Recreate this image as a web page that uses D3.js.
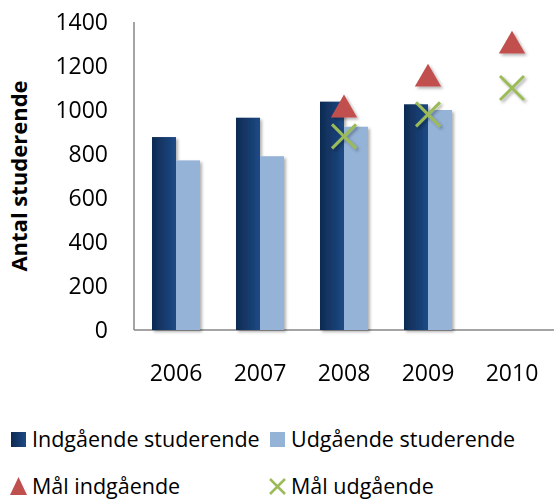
<!DOCTYPE html>
<html>
<head>
<meta charset="utf-8">
<script src="https://cdn.jsdelivr.net/npm/d3@7"></script>
<style>
  body { margin: 0; background: #fff; }
  text { font-family: "Open Sans", "Noto Sans", sans-serif; fill: #000; }
</style>
</head>
<body>
<script>
// data
var years = ["2006", "2007", "2008", "2009", "2010"];
var indgaende = [877, 965, 1038, 1026, null];
var udgaende = [771, 790, 924, 1000, null];
var maalInd = [null, null, 1010, 1150, 1300];
var maalUd = [null, null, 880, 980, 1100];
var yTicks = [0, 200, 400, 600, 800, 1000, 1200, 1400];

var width = 554, height = 499;

var svg = d3.select("body").append("svg")
  .attr("width", width).attr("height", height);

var defs = svg.append("defs");
var grad = defs.append("linearGradient").attr("id", "darkGrad")
  .attr("x1", "0%").attr("x2", "100%").attr("y1", "0%").attr("y2", "0%");
grad.append("stop").attr("offset", "0%").attr("stop-color", "#0e2a52");
grad.append("stop").attr("offset", "100%").attr("stop-color", "#1d4a86");

var shadow = defs.append("filter").attr("id", "shadow")
  .attr("x", "-20%").attr("y", "-20%").attr("width", "150%").attr("height", "150%");
shadow.append("feDropShadow").attr("dx", 2).attr("dy", 2).attr("stdDeviation", 1.5)
  .attr("flood-color", "#000").attr("flood-opacity", 0.3);

var x0 = d3.scaleBand().domain(years).range([134, 554])
  .paddingInner(36 / 84).paddingOuter(18 / 84);
var x1 = d3.scaleBand().domain(["ind", "ud"]).range([0, x0.bandwidth()]);
var y = d3.scaleLinear().domain([0, 1400]).range([330, 22]);

// gridlines
svg.append("g").selectAll("line")
  .data(yTicks.filter(d => d > 0))
  .enter().append("line")
  .attr("x1", 134).attr("x2", 554)
  .attr("y1", d => y(d)).attr("y2", d => y(d))
  .attr("stroke", "#8a8a8a").attr("stroke-width", 1.3)
  .attr("filter", "url(#shadow)");

// axis frame
svg.append("line").attr("x1", 134).attr("x2", 134).attr("y1", y(1400)).attr("y2", y(0))
  .attr("stroke", "#868686").attr("stroke-width", 1.5);
svg.append("line").attr("x1", 134).attr("x2", 554).attr("y1", y(0)).attr("y2", y(0))
  .attr("stroke", "#868686").attr("stroke-width", 1.5);

// bars
var bars = svg.append("g").attr("filter", "url(#shadow)");
bars.selectAll("rect.ind")
  .data(years.map((yr, i) => ({ yr: yr, v: indgaende[i] })).filter(d => d.v != null))
  .enter().append("rect").attr("class", "ind")
  .attr("x", d => x0(d.yr) + x1("ind"))
  .attr("width", x1.bandwidth())
  .attr("y", d => y(d.v))
  .attr("height", d => y(0) - y(d.v))
  .attr("fill", "url(#darkGrad)");
bars.selectAll("rect.ud")
  .data(years.map((yr, i) => ({ yr: yr, v: udgaende[i] })).filter(d => d.v != null))
  .enter().append("rect").attr("class", "ud")
  .attr("x", d => x0(d.yr) + x1("ud"))
  .attr("width", x1.bandwidth())
  .attr("y", d => y(d.v))
  .attr("height", d => y(0) - y(d.v))
  .attr("fill", "#95b3d7");

var cx = yr => x0(yr) + x0.bandwidth() / 2;

// triangles
var tri = d3.symbol().type(d3.symbolTriangle).size(300);
svg.append("g").attr("filter", "url(#shadow)")
  .selectAll("path")
  .data(years.map((yr, i) => ({ yr: yr, v: maalInd[i] })).filter(d => d.v != null))
  .enter().append("path")
  .attr("d", tri)
  .attr("transform", d => "translate(" + cx(d.yr) + "," + (y(d.v) + 2) + ")")
  .attr("fill", "#c0504d");

// crosses
svg.append("g").attr("filter", "url(#shadow)")
  .selectAll("path")
  .data(years.map((yr, i) => ({ yr: yr, v: maalUd[i] })).filter(d => d.v != null))
  .enter().append("path")
  .attr("d", "M-12,-12L12,12M-12,12L12,-12")
  .attr("transform", d => "translate(" + cx(d.yr) + "," + y(d.v) + ")")
  .attr("stroke", "#9bbb59").attr("stroke-width", 3).attr("fill", "none");

// y tick labels
svg.append("g").selectAll("text")
  .data(yTicks).enter().append("text")
  .attr("x", 108).attr("y", d => y(d) + 8)
  .attr("text-anchor", "end")
  .style("font-size", "23px")
  .text(d => d);

// x labels
svg.append("g").selectAll("text")
  .data(years).enter().append("text")
  .attr("x", d => cx(d)).attr("y", 381)
  .attr("text-anchor", "middle")
  .style("font-size", "23px")
  .text(d => d);

// y axis title
svg.append("text")
  .attr("transform", "translate(27,176) rotate(-90)")
  .attr("text-anchor", "middle")
  .style("font-size", "22px").style("font-weight", "bold")
  .text("Antal studerende");

// legend
var leg = svg.append("g");
leg.append("rect").attr("x", 11).attr("y", 432).attr("width", 15).attr("height", 15).attr("fill", "url(#darkGrad)");
leg.append("text").attr("x", 32).attr("y", 447).style("font-size", "21.5px").text("Indgående studerende");
leg.append("rect").attr("x", 270).attr("y", 432).attr("width", 15).attr("height", 15).attr("fill", "#95b3d7");
leg.append("text").attr("x", 291).attr("y", 447).style("font-size", "21.5px").text("Udgående studerende");
leg.append("path").attr("d", "M18.5,477L27,495L10,495Z").attr("fill", "#c0504d");
leg.append("text").attr("x", 32).attr("y", 494).style("font-size", "21.5px").text("Mål indgående");
leg.append("path").attr("d", "M270,479L285,494M270,494L285,479")
  .attr("stroke", "#9bbb59").attr("stroke-width", 2.5);
leg.append("text").attr("x", 291).attr("y", 494).style("font-size", "21.5px").text("Mål udgående");
</script>
</body>
</html>
